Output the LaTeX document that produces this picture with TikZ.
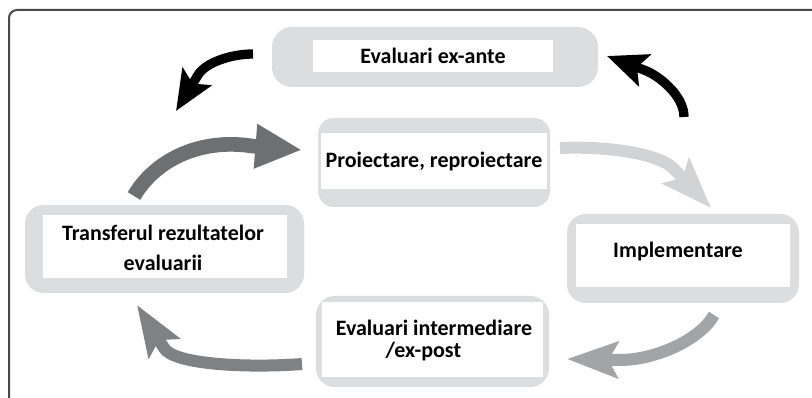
\documentclass[tikz,border=0pt]{standalone}
\usepackage{fontspec}
\setmainfont{Carlito}
\usetikzlibrary{arrows.meta,fit}
\definecolor{boxgray}{HTML}{DCDDDE}
\definecolor{darkarr}{HTML}{6E6F71}
\definecolor{midarr}{HTML}{A3A4A6}
\definecolor{lightarr}{HTML}{D2D3D5}
\definecolor{arr6}{HTML}{808183}
\definecolor{framec}{HTML}{4A4A4A}
\begin{document}
\begin{tikzpicture}[x=0.75pt,y=-0.75pt,
  graybox/.style={fill=boxgray,draw=none,rounded corners=#1,inner sep=0pt},
  whitebox/.style={fill=white,draw=none,inner sep=0pt},
  txt/.style={font=\fontsize{16.5}{20}\selectfont\bfseries,align=center,inner sep=0pt,text=black},
  blackarrow/.style={draw=black,line width=7pt,-{Stealth[length=30pt,width=25pt,inset=6pt]}},
  bigarrow/.style={draw=#1,line width=11pt,-{Triangle[length=35pt,width=31pt]}},
  medarrow/.style={draw=#1,line width=9pt,-{Stealth[length=38pt,width=27pt,inset=7pt]}}
]
\useasboundingbox (0,0) rectangle (812,398);
\fill[white] (0,0) rectangle (812,398);
% frame
\draw[framec,line width=1.5pt,rounded corners=6pt] (9,398) -- (9,10) -- (812,10);

% boxes
\node[graybox=15pt,fit={(272,27) (598,87)}] (topbg) {};
\node[whitebox,fit={(313,40) (553,72)}] (top) {};
\node[txt] (toptxt) at (433,56) {Evaluari ex-ante};

\node[graybox=12pt,fit={(318,118) (550,207)}] (midbg) {};
\node[whitebox,fit={(321,133) (547,189)}] (mid) {};
\node[txt] (midtxt) at (434,162) {Proiectare, reproiectare};

\node[graybox=14pt,fit={(25,205) (304,293)}] (leftbg) {};
\node[whitebox,fit={(43,215) (287,278)}] (left) {};
\node[txt] (lefttxt) at (163,248) {Transferul rezultatelor\\[3pt]evaluarii};

\node[graybox=14pt,fit={(567,214) (799,303)}] (rightbg) {};
\node[whitebox,fit={(576,224) (790,287)}] (right) {};
\node[txt] (righttxt) at (678,252) {Implementare};

\node[graybox=14pt,fit={(316,296) (549,387)}] (botbg) {};
\node[whitebox,fit={(322,302) (543,377)}] (bot) {};
\node[txt,font=\fontsize{16.5}{16.5}\selectfont\bfseries] (bottxt) at (434,341) {Evaluari intermediare\\/ex-post\hspace*{16pt}};

% connector ends
\coordinate (a1s) at (253,54);  \coordinate (a1p) at (198,75);  \coordinate (a1e) at (176,111);
\coordinate (a2s) at (684,117); \coordinate (a2p) at (644,70);  \coordinate (a2e) at (607,56);
\coordinate (a3s) at (134,196); \coordinate (a3p) at (252,146); \coordinate (a3e) at (302,150);
\coordinate (a4s) at (560,148); \coordinate (a4p) at (674,169); \coordinate (a4e) at (711,208);
\coordinate (a5s) at (714,315); \coordinate (a5p) at (620,360); \coordinate (a5e) at (567,359);
\coordinate (a6s) at (302,364); \coordinate (a6p) at (164,348); \coordinate (a6e) at (137,305);

\draw[blackarrow] (a1s) .. controls (232,54) and (206,62) .. (a1p) -- (a1e);
\draw[blackarrow] (a2s) .. controls (684,95) and (658,75) .. (a2p) -- (a2e);
\draw[bigarrow=darkarr] (a3s) .. controls (155,160) and (200,138) .. (a3p) -- (a3e);
\draw[medarrow=lightarr] (a4s) .. controls (610,146) and (660,154) .. (a4p) -- (a4e);
\draw[medarrow=midarr] (a5s) .. controls (700,340) and (655,360) .. (a5p) -- (a5e);
\draw[medarrow=arr6] (a6s) .. controls (250,368) and (174,365) .. (a6p) -- (a6e);
\end{tikzpicture}
\end{document}
